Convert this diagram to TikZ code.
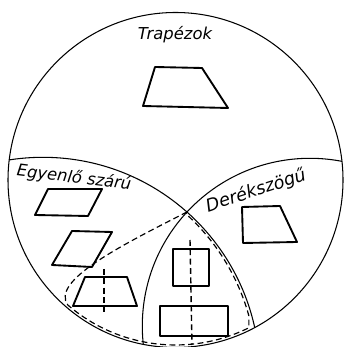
\documentclass[tikz,border=0pt]{standalone}
\usepackage{fontspec}
\newfontfamily\kezi{DejaVu Sans}
\usetikzlibrary{calc}

\begin{document}
\begin{tikzpicture}[x=0.03cm,y=0.03cm,
  vonal/.style={line width=0.9pt},
  figura/.style={line width=1.6pt,line join=round},
  szaggatott/.style={line width=1pt,dash pattern=on 5pt off 3pt},
  tengely/.style={line width=1.2pt,dash pattern=on 5pt off 3pt},
  felirat/.style={font=\kezi\itshape\fontsize{14}{16}\selectfont,inner sep=0pt}]
\useasboundingbox (0,0) rectangle (344,347);
\coordinate (o) at (175.5,167);
\coordinate (x) at (187,135);
% korok
\draw[vonal] (o) circle[radius=167.5];
\begin{scope}
\clip (o) circle[radius=167.5];
\draw[vonal] (43,-27) circle[radius=216.7];
\draw[vonal] (310,21) circle[radius=167.7];
\end{scope}
% tengelyesen szimmetrikusak
\draw[szaggatott] (x) .. controls (122,102) and (50,66) .. ($(o)+(229.3:165)$)
  arc[start angle=229.3,end angle=296.4,radius=165] -- ++(0,12)
  arc[start angle=15.45,end angle=48,radius=214] -- cycle;
% feliratok
\node[felirat] (t) at (175,312) {Trapézok};
\node[felirat,rotate=-7] (e) at (74,169) {Egyenlő szárú};
\node[felirat,font=\kezi\itshape\fontsize{15}{17}\selectfont,rotate=18] (d) at (256,156) {Derékszögű};
% figurak
\draw[figura] (155,280) -- (202,279) -- (228,239) -- (143,241) -- cycle;
\draw[figura] (48,158) -- (102,158) -- (88,131) -- (35,132) -- cycle;
\draw[figura] (72,116) -- (112,115) -- (92,80) -- (52,82) -- cycle;
\draw[figura] (85,70) -- (127,70) -- (137,41) -- (73,41) -- cycle;
\draw[figura] (242,140) -- (280,141) -- (297,105) -- (243,104) -- cycle;
\draw[figura] (173,61) rectangle (209,98);
\draw[figura] (160,11) rectangle (228,41);
% tengelyek
\draw[tengely] (104,78) -- (104,32);
\draw[tengely] (190,107) -- (192,2);
\end{tikzpicture}
\end{document}
